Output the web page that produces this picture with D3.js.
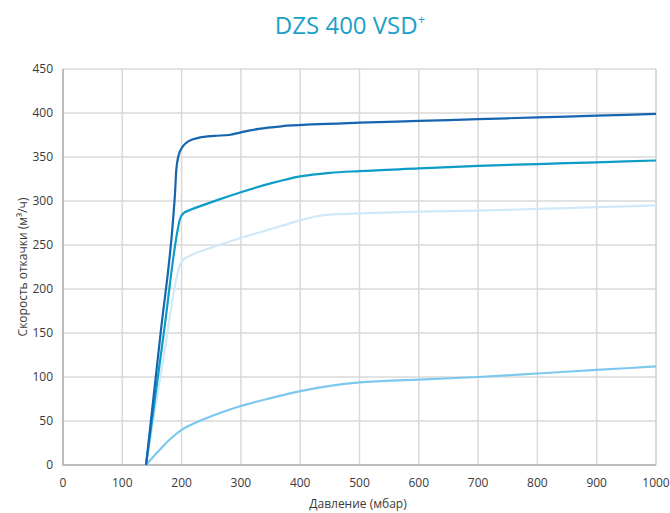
<!DOCTYPE html>
<html><head><meta charset="utf-8">
<script src="https://cdn.jsdelivr.net/npm/d3@7"></script>
<style>body{margin:0;background:#fff}svg{display:block}text{font-family:"Open Sans","Noto Sans",sans-serif}</style>
</head><body><svg id="c" width="670" height="513"></svg>
<script>
const title = "DZS 400 VSD";
const xTicks = [0,100,200,300,400,500,600,700,800,900,1000];
const yTicks = [0,50,100,150,200,250,300,350,400,450];
const seriesDark = [[140,0],[165,152],[186,282],[189,310],[191,335],[195,352],[202,362],[212,368],[230,372],[255,374],[280,375],[300,378],[330,382],[370,385],[420,387],[500,389],[600,391],[700,393],[800,395],[900,397],[1000,399]];
const seriesTeal = [[140,0],[170,150],[193,266],[197,279],[203,286],[215,290],[235,295],[260,301],[300,310],[350,320],[400,328],[450,332],[500,334],[600,337],[700,340],[800,342],[900,344],[1000,346]];
const seriesLight = [[140,0],[170,124],[191,211],[196,225],[202,233],[215,238],[250,247],[300,258],[350,268],[400,278],[430,283],[460,285],[500,286],[600,288],[700,289],[800,291],[900,293],[1000,295]];
const seriesLow = [[140,0],[160,15],[180,29],[200,40],[230,50],[260,58],[300,67],[350,76],[400,84],[450,90],[500,94],[600,97],[700,100],[800,104],[900,108],[1000,112]];
const series = [
  {data: seriesLow, color:"#7dc8ee"},
  {data: seriesLight, color:"#cfe9f9"},
  {data: seriesTeal, color:"#0b9cc8"},
  {data: seriesDark, color:"#1565b0"}
];
const svg = d3.select("#c");
const m = {l:63, r:656, t:69, b:465};
const x = d3.scaleLinear().domain([0,1000]).range([m.l,m.r]);
const y = d3.scaleLinear().domain([0,450]).range([m.b,m.t]);
svg.append("g").selectAll("line").data(xTicks.slice(1,-1)).join("line")
  .attr("x1",d=>x(d)).attr("x2",d=>x(d)).attr("y1",m.t).attr("y2",m.b)
  .attr("stroke","#d9d9d9").attr("stroke-width",1.5);
svg.append("g").selectAll("line").data(yTicks.slice(1)).join("line")
  .attr("x1",m.l).attr("x2",m.r).attr("y1",d=>y(d)).attr("y2",d=>y(d))
  .attr("stroke","#d9d9d9").attr("stroke-width",1.5);
svg.append("line").attr("x1",m.r).attr("x2",m.r).attr("y1",m.t).attr("y2",m.b).attr("stroke","#cfcfcf").attr("stroke-width",1.5);
svg.append("line").attr("x1",m.l).attr("x2",m.l).attr("y1",m.t).attr("y2",m.b+1).attr("stroke","#bdbdbd").attr("stroke-width",2);
svg.append("line").attr("x1",m.l).attr("x2",m.r).attr("y1",m.b).attr("y2",m.b).attr("stroke","#bdbdbd").attr("stroke-width",2);
svg.append("g").selectAll("text").data(xTicks).join("text")
  .attr("x",d=>x(d)).attr("y",487).attr("text-anchor","middle")
  .attr("font-size",12).attr("fill","#3a3a3a").text(d=>d);
svg.append("g").selectAll("text").data(yTicks).join("text")
  .attr("x",53).attr("y",d=>y(d)+4).attr("text-anchor","end")
  .attr("font-size",12).attr("fill","#3a3a3a").text(d=>d);
const line = d3.line().x(d=>x(d[0])).y(d=>y(d[1])).curve(d3.curveMonotoneX);
svg.append("g").selectAll("path").data(series).join("path")
  .attr("d",d=>line(d.data)).attr("fill","none").attr("stroke",d=>d.color).attr("stroke-width",2.2);
const t = svg.append("text").attr("x",350).attr("y",34).attr("text-anchor","middle")
  .attr("font-size",24).attr("fill","#1ba1c9");
t.append("tspan").text(title);
t.append("tspan").attr("font-size",13).attr("dy",-10).text("+");
svg.append("text").attr("x",358).attr("y",508).attr("text-anchor","middle")
  .attr("font-size",12).attr("fill","#3a3a3a").text("Давление (мбар)");
svg.append("text").attr("transform","translate(27,267) rotate(-90)").attr("text-anchor","middle")
  .attr("font-size",12).attr("fill","#3a3a3a").text("Скорость откачки (м³/ч)");
</script></body></html>
